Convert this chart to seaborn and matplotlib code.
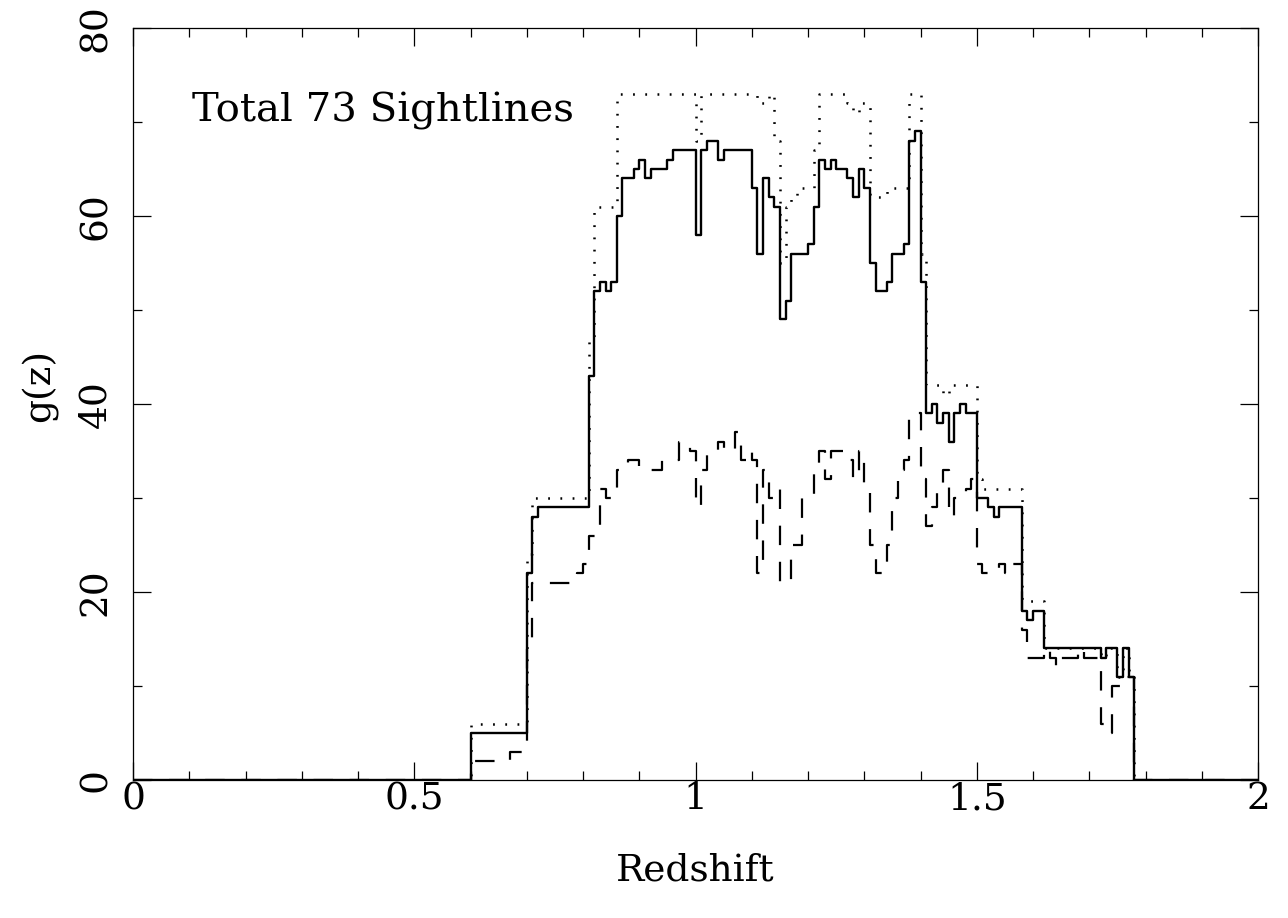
import matplotlib
matplotlib.use("Agg")
import matplotlib.pyplot as plt
import numpy as np
import pandas as pd
import seaborn as sns
from matplotlib.ticker import MultipleLocator

# ---- data (left bin edges and step values) ----
solid_edges = [0.00, 0.60, 0.70, 0.71, 0.72, 0.81, 0.82, 0.83, 0.84, 0.85, 0.86, 0.87, 0.89,
               0.90, 0.91, 0.92, 0.95, 0.96, 1.00, 1.01, 1.02, 1.04, 1.05, 1.10, 1.11, 1.12,
               1.13, 1.14, 1.15, 1.16, 1.17, 1.20, 1.21, 1.22, 1.23, 1.24, 1.25, 1.27, 1.28,
               1.29, 1.30, 1.31, 1.32, 1.34, 1.35, 1.37, 1.38, 1.39, 1.40, 1.41, 1.42, 1.43,
               1.44, 1.45, 1.46, 1.47, 1.48, 1.50, 1.52, 1.53, 1.54, 1.58, 1.59, 1.60, 1.62,
               1.72, 1.73, 1.75, 1.76, 1.77, 1.78]
solid_values = [0, 5, 22, 28, 29, 43, 52, 53, 52, 53, 60, 64, 65,
                66, 64, 65, 66, 67, 58, 67, 68, 66, 67, 63, 56, 64,
                62, 61, 49, 51, 56, 57, 61, 66, 65, 66, 65, 64, 62,
                65, 63, 55, 52, 53, 56, 57, 68, 69, 53, 39, 40, 38,
                39, 36, 39, 40, 39, 30, 29, 28, 29, 18, 17, 18, 14,
                13, 14, 11, 14, 11, 0]

dotted_edges = [0.00, 0.60, 0.70, 0.71, 0.81, 0.82, 0.86, 1.00, 1.01, 1.11, 1.13, 1.14, 1.15,
                1.16, 1.17, 1.18, 1.21, 1.22, 1.27, 1.28, 1.29, 1.31, 1.34, 1.38, 1.40, 1.41,
                1.44, 1.45, 1.50, 1.51, 1.58, 1.62, 1.72, 1.73, 1.75, 1.76, 1.77, 1.78]
dotted_values = [0, 6, 24, 30, 47, 61, 73, 68, 73, 72, 73, 68, 55,
                 61, 62, 63, 67, 73, 72, 71, 72, 62, 63, 73, 56, 42,
                 41, 42, 32, 31, 19, 14, 13, 14, 11, 14, 11, 0]

dashed_edges = [0.00, 0.60, 0.67, 0.70, 0.71, 0.79, 0.80, 0.81, 0.83, 0.84, 0.86, 0.88, 0.90,
                0.94, 0.97, 0.99, 1.00, 1.01, 1.02, 1.04, 1.05, 1.07, 1.08, 1.09, 1.10, 1.11,
                1.12, 1.13, 1.14, 1.15, 1.17, 1.19, 1.21, 1.22, 1.23, 1.24, 1.27, 1.28, 1.29,
                1.30, 1.31, 1.32, 1.34, 1.35, 1.36, 1.37, 1.38, 1.40, 1.41, 1.42, 1.43, 1.44,
                1.45, 1.46, 1.48, 1.49, 1.50, 1.51, 1.54, 1.55, 1.56, 1.58, 1.59, 1.62, 1.63,
                1.64, 1.65, 1.68, 1.69, 1.72, 1.73, 1.74, 1.76, 1.78]
dashed_values = [0, 2, 3, 14, 21, 22, 23, 26, 31, 30, 33, 34, 33,
                 34, 36, 35, 29, 33, 35, 36, 35, 37, 34, 35, 34, 22,
                 33, 30, 31, 21, 25, 30, 33, 35, 32, 35, 34, 32, 35,
                 31, 25, 22, 25, 30, 33, 34, 39, 32, 27, 29, 31, 33,
                 28, 30, 31, 32, 23, 22, 23, 22, 23, 16, 13, 14, 13,
                 12, 13, 14, 13, 6, 5, 10, 11, 0]

x_max = 2.0
x_tick_values = [0, 0.5, 1, 1.5, 2]
x_tick_labels = ["0", "0.5", "1", "1.5", "2"]
y_tick_values = [0, 20, 40, 60, 80]
y_tick_labels = ["0", "20", "40", "60", "80"]
annotation = "Total 73 Sightlines"
x_label = "Redshift"
y_label = "g(z)"


def step_frame(edges, values):
    return pd.DataFrame({"z": list(edges) + [x_max], "g": list(values) + [values[-1]]})


sns.set_theme(style="ticks")
plt.rcParams["font.family"] = ["DejaVu Serif"]
plt.rcParams["lines.scale_dashes"] = False
plt.rcParams["text.color"] = "black"
plt.rcParams["axes.labelcolor"] = "black"

fig = plt.figure(figsize=(12.88, 9.18), dpi=100)
ax = fig.add_axes([133 / 1288, 1 - 780 / 918, 1125 / 1288, 752 / 918])

sns.lineplot(data=step_frame(dashed_edges, dashed_values), x="z", y="g", ax=ax,
             drawstyle="steps-post", color="black", lw=1.6, estimator=None, sort=False)
ax.lines[-1].set_linestyle((0, (14, 12)))
sns.lineplot(data=step_frame(dotted_edges, dotted_values), x="z", y="g", ax=ax,
             drawstyle="steps-post", color="black", lw=1.8, estimator=None, sort=False)
ax.lines[-1].set_linestyle((0, (1.3, 7.5)))
sns.lineplot(data=step_frame(solid_edges, solid_values), x="z", y="g", ax=ax,
             drawstyle="steps-post", color="black", lw=1.7, estimator=None, sort=False)

ax.set_xlim(0, 2)
ax.set_ylim(0, 80)
ax.set_xticks(x_tick_values)
ax.set_xticklabels(x_tick_labels)
ax.set_yticks(y_tick_values)
ax.set_yticklabels(y_tick_labels)
ax.xaxis.set_minor_locator(MultipleLocator(0.1))
ax.yaxis.set_minor_locator(MultipleLocator(10))

ax.tick_params(which="both", direction="in", top=True, right=True, color="black", width=0.9)
ax.tick_params(which="major", length=13)
ax.tick_params(which="minor", length=6.5)
ax.tick_params(axis="x", which="major", labelsize=27, pad=1, labelcolor="black")
ax.tick_params(axis="y", which="major", labelsize=27, pad=14, labelrotation=90, labelcolor="black")
for lab in ax.get_yticklabels():
    lab.set_verticalalignment("center")
for s in ax.spines.values():
    s.set_linewidth(0.9)
    s.set_color("black")

ax.set_xlabel(x_label, fontsize=27, va="center", color="black")
ax.set_ylabel(y_label, fontsize=27, va="center", color="black")
ax.xaxis.set_label_coords(0.5, -0.12)
ax.yaxis.set_label_coords(-0.083, 0.525)

ax.text(0.105, 70, annotation, fontsize=29, ha="left", va="baseline", color="black")

fig.savefig("out.png", dpi=100)
